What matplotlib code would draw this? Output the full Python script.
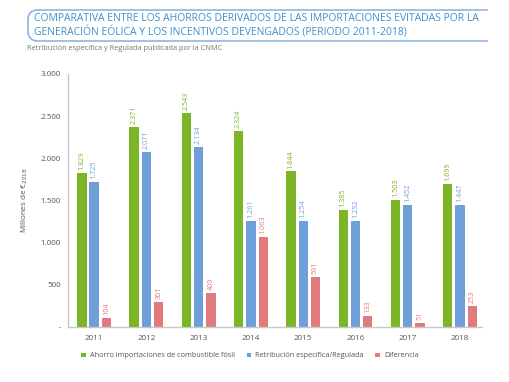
"""Ahorros por importaciones evitadas vs. incentivos devengados (2011-2018)."""

import matplotlib

matplotlib.use("Agg")
import matplotlib.pyplot as plt
import numpy as np
from matplotlib.patches import Arc

YEARS = ["2011", "2012", "2013", "2014", "2015", "2016", "2017", "2018"]
AHORRO = [1829, 2371, 2543, 2324, 1844, 1385, 1503, 1699]
RETRIBUCION = [1725, 2071, 2134, 1261, 1254, 1252, 1452, 1447]
DIFERENCIA = [104, 301, 409, 1063, 591, 133, 51, 253]
SERIES_NAMES = [
    "Ahorro importaciones de combustible fósil",
    "Retribución específica/Regulada",
    "Diferencia",
]
Y_TICKS = [0, 500, 1000, 1500, 2000, 2500, 3000]
Y_TICK_LABELS = ["-", "500", "1.000", "1.500", "2.000", "2.500", "3.000"]

COLORS = ["#7cb526", "#6f9fd8", "#e17b7b"]
TITLE_COLOR = "#3d8fcc"
BOX_COLOR = "#8db6e2"
GREY = "#555555"


def fmt(v):
    return f"{v:,}".replace(",", ".")


def main():
    plt.rcParams["font.family"] = ["Open Sans", "DejaVu Sans"]
    fig = plt.figure(figsize=(5.10, 3.82), dpi=100)

    # header drawn in pixel coordinates
    hdr = fig.add_axes([0, 0, 1, 1])
    hdr.set_xlim(0, 510)
    hdr.set_ylim(382, 0)
    hdr.axis("off")
    top, bot, x0, r = 10, 41, 28, 9
    hdr.plot([x0 + r, 487], [top, top], color=BOX_COLOR, lw=1.2)
    hdr.plot([x0 + r, 487], [bot, bot], color=BOX_COLOR, lw=1.2)
    hdr.plot([x0, x0], [top + r, bot - r], color=BOX_COLOR, lw=1.2)
    hdr.add_patch(Arc((x0 + r, top + r), 2 * r, 2 * r, theta1=180, theta2=270,
                      color=BOX_COLOR, lw=1.2))
    hdr.add_patch(Arc((x0 + r, bot - r), 2 * r, 2 * r, theta1=90, theta2=180,
                      color=BOX_COLOR, lw=1.2))
    hdr.text(34, 18.5, "COMPARATIVA ENTRE LOS AHORROS DERIVADOS DE LAS IMPORTACIONES EVITADAS POR LA",
             color=TITLE_COLOR, fontsize=7.5, va="center", ha="left")
    hdr.text(34, 32.5, "GENERACIÓN EÓLICA Y LOS INCENTIVOS DEVENGADOS (PERIODO 2011-2018)",
             color=TITLE_COLOR, fontsize=7.5, va="center", ha="left")
    hdr.text(27, 49, "Retribución específica y Regulada publicada por la CNMC",
             color="#777777", fontsize=5.3, va="center", ha="left")

    ax = fig.add_axes([68 / 510, 1 - 327 / 382, (482 - 68) / 510, (327 - 74) / 382])
    x = np.arange(len(YEARS))
    width = 0.18
    offsets = [-0.235, 0, 0.235]
    for vals, off, color, name in zip([AHORRO, RETRIBUCION, DIFERENCIA], offsets, COLORS, SERIES_NAMES):
        bars = ax.bar(x + off, vals, width, color=color, label=name)
        for b, v in zip(bars, vals):
            ax.text(b.get_x() + b.get_width() / 2, v + 35, fmt(v), rotation=90,
                    ha="center", va="bottom", fontsize=5.2, color=color)

    ax.set_xlim(-0.5, 7.42)
    ax.set_ylim(0, 3000)
    ax.set_xticks(x)
    ax.set_xticklabels(YEARS)
    ax.set_yticks(Y_TICKS)
    ax.set_yticklabels(Y_TICK_LABELS)
    ax.tick_params(axis="both", length=0, labelsize=5.8, colors=GREY, pad=5)
    ax.tick_params(axis="x", pad=6)
    for s in ["top", "right"]:
        ax.spines[s].set_visible(False)
    for s in ["left", "bottom"]:
        ax.spines[s].set_color("#c8c8c8")
        ax.spines[s].set_linewidth(1.0)
    ax.set_ylabel("Millones de €$_{2018}$", fontsize=5.8, color=GREY, labelpad=8)

    ax.legend(loc="upper center", bbox_to_anchor=(0.44, -0.075), ncol=3, frameon=False,
              fontsize=5.2, handlelength=0.6, handleheight=0.6, handletextpad=0.6,
              columnspacing=1.6, labelcolor=GREY)

    fig.savefig("out.png", dpi=100)
    plt.close(fig)


if __name__ == "__main__":
    main()
